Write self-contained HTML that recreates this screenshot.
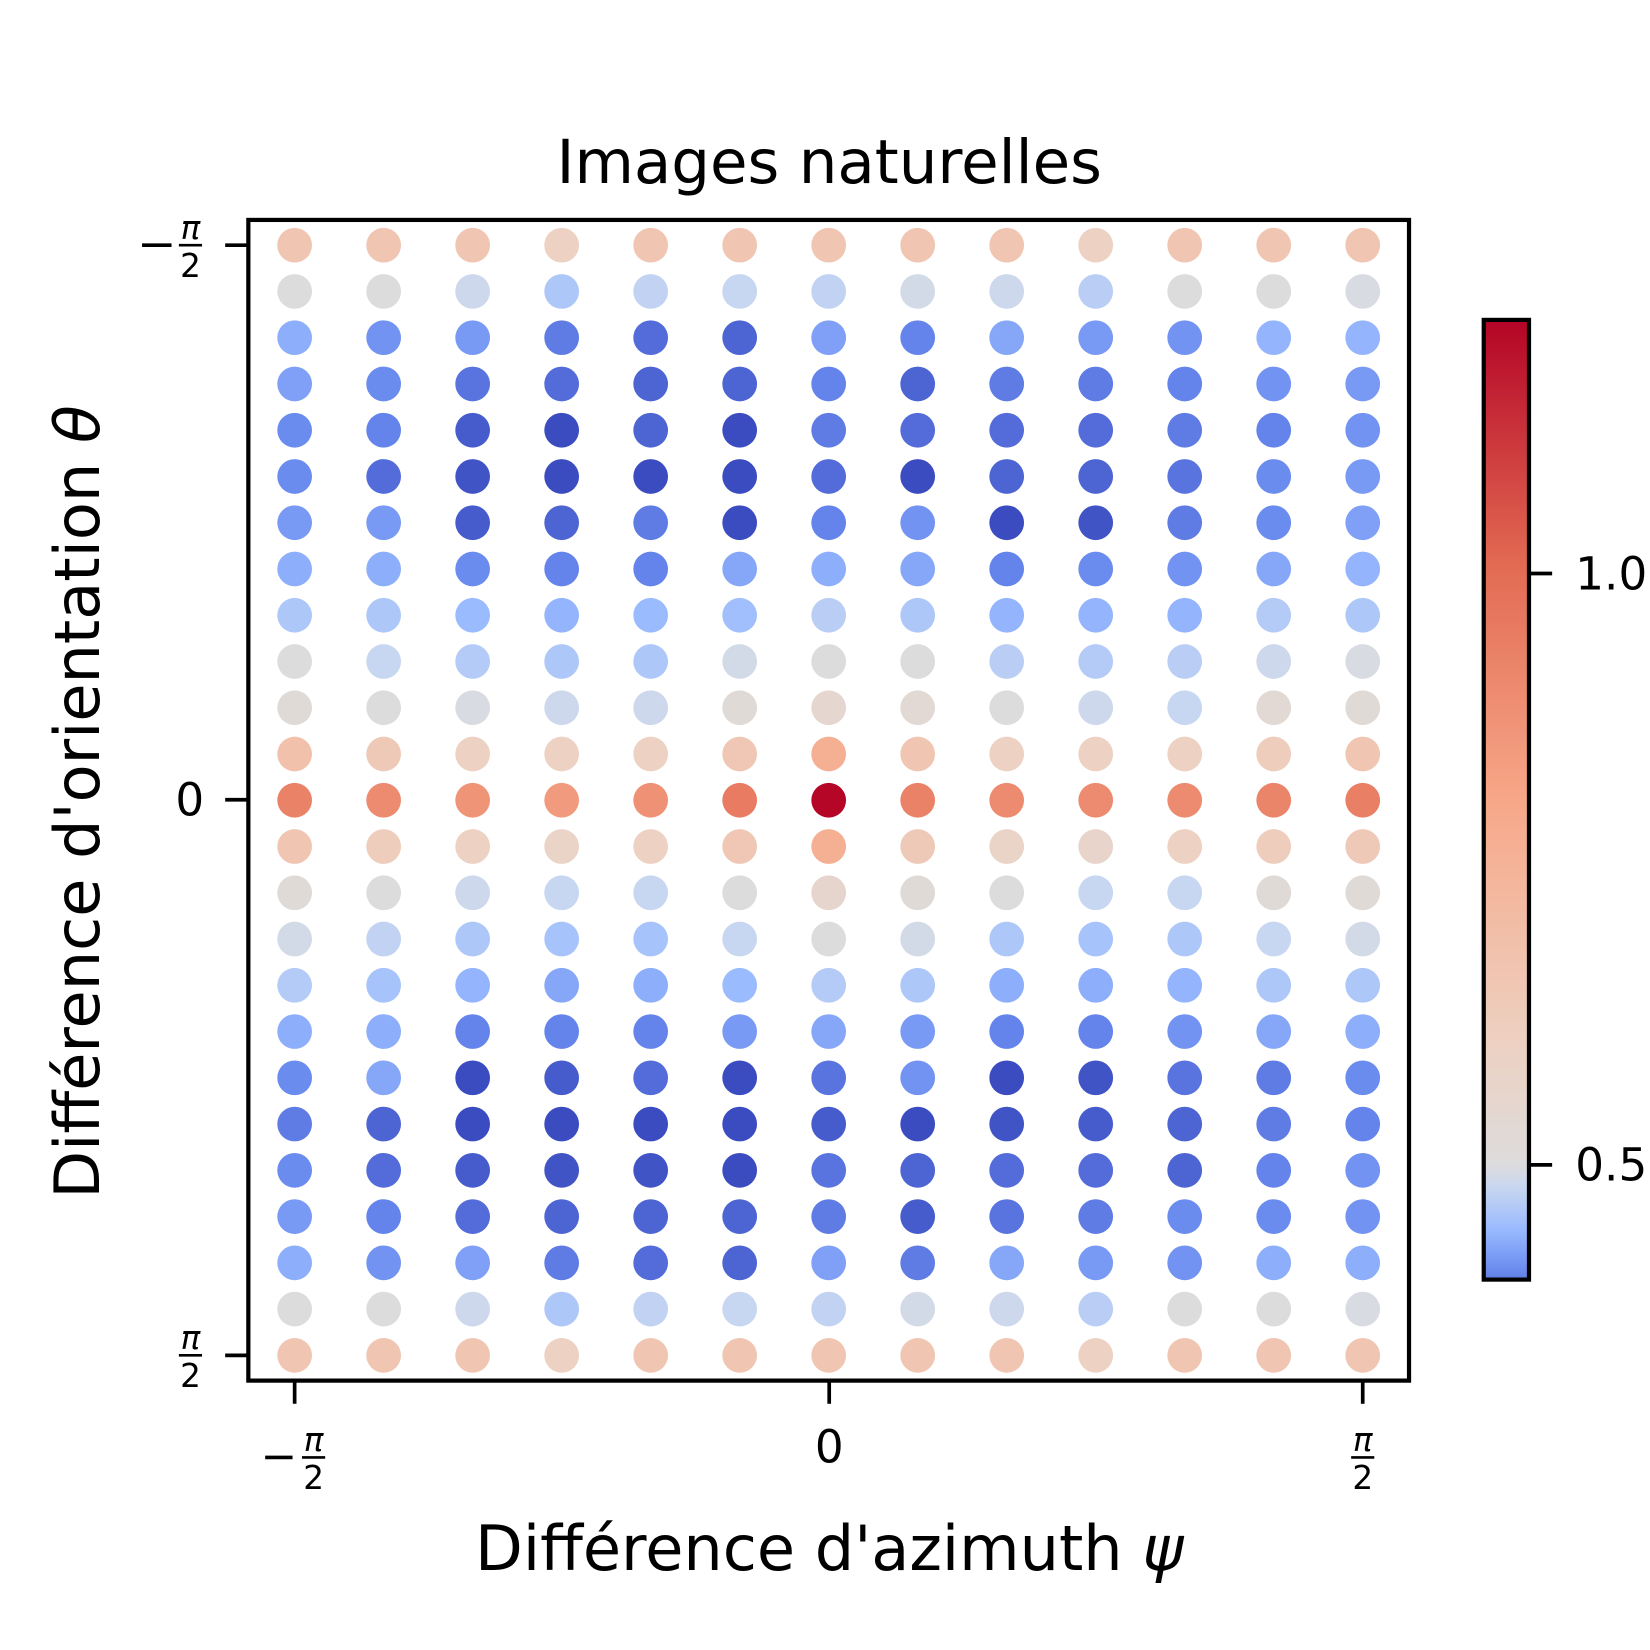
<!DOCTYPE html>
<html><head><meta charset="utf-8"><style>
html,body{margin:0;padding:0;background:#fff;}
svg{display:block;font-family:"DejaVu Sans","Liberation Sans",sans-serif;}
</style></head><body>
<svg id="chart" width="1650" height="1650" viewBox="0 0 1568 1568" xmlns="http://www.w3.org/2000/svg">
<defs><linearGradient id="cbgrad" x1="0" y1="1" x2="0" y2="0"></linearGradient></defs>
<rect width="1568" height="1568" fill="#fff"/>
<text x="788" y="174" font-size="58" text-anchor="middle">Images naturelles</text>
<g id="dots"></g>
<rect x="236" y="209" width="1103" height="1103" fill="none" stroke="#000" stroke-width="4"/>
<g id="axes"></g>
<text x="788" y="1492" font-size="59" text-anchor="middle">Différence d'azimuth <tspan font-style="italic">ψ</tspan></text>
<text transform="translate(94,762) rotate(-90)" font-size="59" text-anchor="middle">Différence d'orientation <tspan font-style="italic">θ</tspan></text>
<rect x="1410" y="304" width="43" height="912" fill="url(#cbgrad)" stroke="#000" stroke-width="4"/>
<g id="cbticks"></g>
</svg>
<script>
const nCols = 13;
const rowValues = [
[0.66,0.66,0.66,0.6,0.66,0.66,0.66,0.66,0.66,0.6,0.66,0.66,0.66],
[0.5,0.5,0.47,0.42,0.45,0.46,0.45,0.48,0.47,0.44,0.5,0.5,0.49],
[0.37,0.33,0.34,0.3,0.28,0.27,0.35,0.31,0.36,0.34,0.33,0.38,0.38],
[0.35,0.32,0.29,0.28,0.27,0.27,0.31,0.27,0.3,0.3,0.31,0.33,0.34],
[0.32,0.31,0.26,0.24,0.27,0.21,0.3,0.28,0.28,0.28,0.3,0.31,0.33],
[0.32,0.28,0.25,0.22,0.24,0.24,0.28,0.24,0.27,0.27,0.29,0.32,0.34],
[0.34,0.34,0.26,0.27,0.3,0.24,0.31,0.33,0.24,0.25,0.3,0.32,0.35],
[0.37,0.37,0.32,0.31,0.31,0.36,0.37,0.36,0.31,0.32,0.33,0.36,0.38],
[0.42,0.42,0.39,0.38,0.39,0.4,0.44,0.42,0.38,0.38,0.38,0.43,0.42],
[0.5,0.46,0.43,0.42,0.42,0.48,0.5,0.5,0.44,0.43,0.44,0.47,0.49],
[0.52,0.5,0.49,0.47,0.47,0.52,0.55,0.53,0.5,0.47,0.46,0.53,0.52],
[0.68,0.64,0.6,0.6,0.6,0.65,0.77,0.66,0.6,0.6,0.6,0.62,0.66],
[0.93,0.9,0.87,0.85,0.88,0.95,1.21,0.93,0.9,0.9,0.9,0.92,0.94],
[0.66,0.62,0.6,0.58,0.6,0.65,0.77,0.64,0.58,0.57,0.6,0.62,0.64],
[0.52,0.5,0.47,0.46,0.46,0.5,0.56,0.52,0.5,0.46,0.46,0.52,0.52],
[0.48,0.45,0.42,0.41,0.41,0.46,0.5,0.48,0.42,0.41,0.42,0.46,0.48],
[0.43,0.41,0.38,0.36,0.37,0.39,0.43,0.42,0.37,0.37,0.38,0.42,0.42],
[0.37,0.37,0.31,0.31,0.31,0.34,0.36,0.34,0.31,0.31,0.33,0.36,0.37],
[0.32,0.36,0.24,0.26,0.28,0.22,0.29,0.33,0.23,0.25,0.29,0.3,0.32],
[0.3,0.27,0.24,0.21,0.23,0.22,0.26,0.23,0.25,0.26,0.27,0.3,0.31],
[0.32,0.28,0.26,0.25,0.25,0.23,0.29,0.27,0.28,0.28,0.27,0.31,0.33],
[0.34,0.31,0.28,0.27,0.27,0.27,0.3,0.26,0.29,0.3,0.32,0.32,0.33],
[0.37,0.33,0.35,0.3,0.28,0.27,0.35,0.3,0.36,0.34,0.33,0.37,0.37],
[0.5,0.5,0.47,0.42,0.45,0.46,0.45,0.48,0.47,0.44,0.5,0.5,0.49],
[0.66,0.66,0.66,0.6,0.66,0.66,0.66,0.66,0.66,0.6,0.66,0.66,0.66]
];
const cbTicks = [1.0, 0.5];
const cbTickLabels = ["1.0", "0.5"];
const cbMin = 0.403, cbMax = 1.214;

const NS = "http://www.w3.org/2000/svg";
const stops = [[0,[59,76,192]],[0.143,[103,136,238]],[0.286,[154,187,255]],[0.429,[201,215,240]],[0.5,[221,220,220]],[0.571,[237,209,194]],[0.714,[247,168,137]],[0.857,[226,105,82]],[1,[180,4,38]]];
function cmap(t){t=Math.max(0,Math.min(1,t));for(let i=1;i<stops.length;i++){if(t<=stops[i][0]){const a=stops[i-1],b=stops[i];const f=(t-a[0])/(b[0]-a[0]);return "rgb("+a[1].map((c,k)=>Math.round(c+(b[1][k]-c)*f)).join(",")+")";}}return "rgb(180,4,38)";}
function norm(v){return v<0.5?0.5-(0.5-v)/0.52:0.5+(v-0.5)/(cbMax-0.5)*0.5;}
function cbNorm(v){return v<0.5?0.5-(0.5-v)/(0.5-cbMin)*0.38:0.5+(v-0.5)/(cbMax-0.5)*0.5;}
function xScale(c){return 280+(1295-280)*c/(nCols-1);}
function yScale(r){return 233+(1288-233)*r/(rowValues.length-1);}
function cbY(v){return 545+(1.0-v)*1124;}

const dots=document.getElementById("dots");
rowValues.forEach((row,r)=>row.forEach((v,c)=>{
  const e=document.createElementNS(NS,"circle");
  e.setAttribute("cx",xScale(c));e.setAttribute("cy",yScale(r));e.setAttribute("r",16.5);
  e.setAttribute("fill",cmap(norm(v)));
  
  
  dots.appendChild(e);
}));

const grad=document.getElementById("cbgrad");
for(let i=0;i<=80;i++){const v=cbMin+(cbMax-cbMin)*i/80;const s=document.createElementNS(NS,"stop");s.setAttribute("offset",(i/80));s.setAttribute("stop-color",cmap(cbNorm(v)));grad.appendChild(s);}

const cb=document.getElementById("cbticks");
cbTicks.forEach((v,i)=>{
  const y=cbY(v);
  const l=document.createElementNS(NS,"line");
  l.setAttribute("x1",1453);l.setAttribute("x2",1475);l.setAttribute("y1",y);l.setAttribute("y2",y);l.setAttribute("stroke","#000");l.setAttribute("stroke-width",3.5);
  
  
  cb.appendChild(l);
  const t=document.createElementNS(NS,"text");
  t.setAttribute("x",1497);t.setAttribute("y",y+15);t.setAttribute("font-size",43);t.textContent=cbTickLabels[i];
  
  
  cb.appendChild(t);
});

const axes=document.getElementById("axes");
function add(tag,attrs,text,name){const e=document.createElementNS(NS,tag);for(const k in attrs)e.setAttribute(k,attrs[k]);if(text)e.textContent=text;

axes.appendChild(e);return e;}
[[233,"neg"],[760,"zero"],[1288,"pos"]].forEach(([y,k])=>{
  add("line",{x1:214,x2:236,y1:y,y2:y,stroke:"#000","stroke-width":3.5},null,"y-tick");
  if(k==="zero") add("text",{x:194,y:y+15,"font-size":43,"text-anchor":"end"},"0","y-tick-label");
  else{
    const cx=181;
    if(k==="neg") add("line",{x1:135,x2:163,y1:y,y2:y,stroke:"#000","stroke-width":3.5},null,"y-tick-minus");
    add("text",{x:cx,y:y-6,"font-size":31,"font-style":"italic","text-anchor":"middle"},"π","y-tick-label");
    add("line",{x1:cx-11,x2:cx+11,y1:y,y2:y,stroke:"#000","stroke-width":2.5},null,"y-tick-fraction");
    add("text",{x:cx,y:y+30,"font-size":31,"text-anchor":"middle"},"2","y-tick-label");
  }
});
[[280,"neg"],[788,"zero"],[1295,"pos"]].forEach(([x,k])=>{
  add("line",{x1:x,x2:x,y1:1312,y2:1334,stroke:"#000","stroke-width":3.5},null,"x-tick");
  if(k==="zero") add("text",{x:x,y:1390,"font-size":43,"text-anchor":"middle"},"0","x-tick-label");
  else{
    const cx=k==="neg"?x+18:x;const y=1385;
    if(k==="neg") add("line",{x1:x-28,x2:x-2,y1:y,y2:y,stroke:"#000","stroke-width":3.5},null,"x-tick-minus");
    add("text",{x:cx,y:y-6,"font-size":31,"font-style":"italic","text-anchor":"middle"},"π","x-tick-label");
    add("line",{x1:cx-11,x2:cx+11,y1:y,y2:y,stroke:"#000","stroke-width":2.5},null,"x-tick-fraction");
    add("text",{x:cx,y:y+30,"font-size":31,"text-anchor":"middle"},"2","x-tick-label");
  }
});
</script>
</body></html>
